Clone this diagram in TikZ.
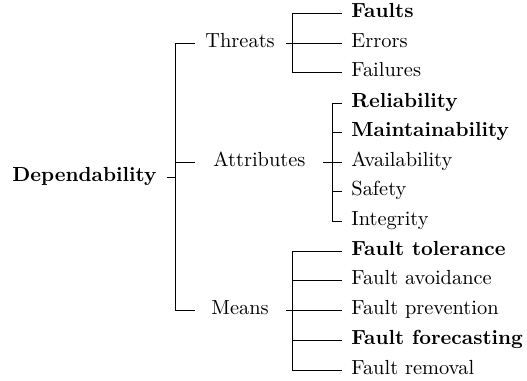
\documentclass[tikz,border=0pt]{standalone}
\begin{document}
\begin{tikzpicture}[x=0.49pt,y=-0.49pt,
  lbl/.style={inner sep=0pt, anchor=mid west},
  conn/.style={line width=0.4pt}]
\useasboundingbox (0,0) rectangle (527,381);
% root
\node[lbl] (dep) at (12,177) {\textbf{Dependability}};
\coordinate (rj) at (175,177);
% level 1
\node[lbl] (thr) at (205,43) {Threats};
\node[lbl] (att) at (213,162) {Attributes};
\node[lbl] (mea) at (211,310) {Means};
\coordinate (tj) at (292,43);
\coordinate (aj) at (332,162);
\coordinate (mj) at (292,310);
% leaves
\node[lbl] (f1) at (351,13) {\textbf{Faults}};
\node[lbl] (f2) at (351,43) {Errors};
\node[lbl] (f3) at (351,72) {Failures};
\node[lbl] (a1) at (351,103) {\textbf{Reliability}};
\node[lbl] (a2) at (351,132) {\textbf{Maintainability}};
\node[lbl] (a3) at (351,162) {Availability};
\node[lbl] (a4) at (351,191) {Safety};
\node[lbl] (a5) at (351,221) {Integrity};
\node[lbl] (m1) at (351,251) {\textbf{Fault tolerance}};
\node[lbl] (m2) at (351,280) {Fault avoidance};
\node[lbl] (m3) at (351,310) {Fault prevention};
\node[lbl] (m4) at (351,340) {\textbf{Fault forecasting}};
\node[lbl] (m5) at (351,370) {Fault removal};
% connectors
\draw[conn] ([shift={(10,0)}]dep.mid east) -- (rj);
\draw[conn] (rj) |- ([shift={(-10,0)}]thr.mid west);
\draw[conn] (rj) |- ([shift={(-18,0)}]att.mid west);
\draw[conn] (rj) |- ([shift={(-16,0)}]mea.mid west);
\draw[conn] ([shift={(11,0)}]thr.mid east) -- (tj);
\draw[conn] ([shift={(17,0)}]att.mid east) -- (aj);
\draw[conn] ([shift={(17,0)}]mea.mid east) -- (mj);
\foreach \n in {f1,f2,f3} \draw[conn] (tj) |- ([shift={(-9,0)}]\n.mid west);
\foreach \n in {a1,a2,a3,a4,a5} \draw[conn] (aj) |- ([shift={(-9,0)}]\n.mid west);
\foreach \n in {m1,m2,m3,m4,m5} \draw[conn] (mj) |- ([shift={(-9,0)}]\n.mid west);
\end{tikzpicture}
\end{document}
